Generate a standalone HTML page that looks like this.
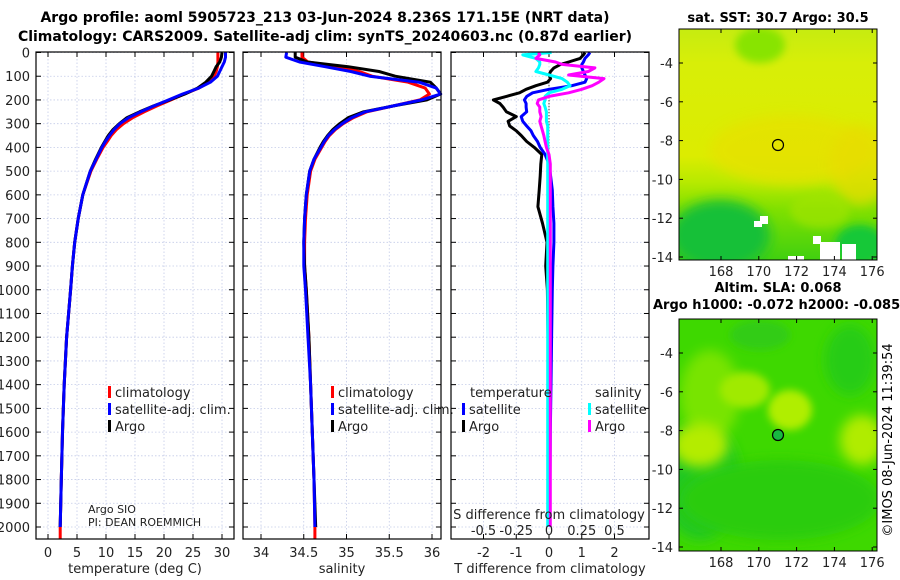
<!DOCTYPE html>
<html><head><meta charset="utf-8"><style>
html,body{margin:0;padding:0;background:#fff;}
svg{display:block;font-family:"DejaVu Sans","Liberation Sans",sans-serif;}
</style></head><body>
<svg id="chart" width="900" height="580" viewBox="0 0 900 580" xmlns="http://www.w3.org/2000/svg">
<defs>
<filter id="blur6" x="-50%" y="-50%" width="200%" height="200%"><feGaussianBlur stdDeviation="6"/></filter>
<filter id="blur4" x="-50%" y="-50%" width="200%" height="200%"><feGaussianBlur stdDeviation="4"/></filter>
<clipPath id="clipMap1"><rect x="679" y="29" width="198" height="231"/></clipPath>
<clipPath id="clipMap2"><rect x="679" y="319" width="198" height="232"/></clipPath>
<linearGradient id="sstGrad" x1="0" y1="0" x2="0" y2="1">
<stop offset="0" stop-color="#c6ec10"/><stop offset="0.15" stop-color="#d8ee08"/><stop offset="0.55" stop-color="#dcec00"/><stop offset="0.66" stop-color="#b8ea00"/><stop offset="0.78" stop-color="#80e000"/><stop offset="1" stop-color="#40d010"/>
</linearGradient>
</defs>
<text x="325" y="22" text-anchor="middle" font-size="14" font-weight="bold">Argo profile: aoml 5905723_213 03-Jun-2024 8.236S 171.15E (NRT data)</text>
<text x="325" y="41" text-anchor="middle" font-size="14" font-weight="bold">Climatology: CARS2009. Satellite-adj clim: synTS_20240603.nc (0.87d earlier)</text>
<g id="panels"></g>
<g id="maps">
<text x="778" y="22" text-anchor="middle" font-size="13" font-weight="bold">sat. SST: 30.7 Argo: 30.5</text>
<g clip-path="url(#clipMap1)">
<rect x="679" y="29" width="198" height="231" fill="url(#sstGrad)"/>
<ellipse cx="790" cy="150" rx="80" ry="35" fill="#e6e200" filter="url(#blur6)" opacity="0.8"/>
<ellipse cx="860" cy="165" rx="30" ry="40" fill="#e8dc00" filter="url(#blur6)" opacity="0.7"/>
<ellipse cx="760" cy="45" rx="25" ry="18" fill="#88e400" filter="url(#blur4)"/>
<ellipse cx="720" cy="235" rx="50" ry="35" fill="#18c038" filter="url(#blur6)"/>
<ellipse cx="860" cy="245" rx="25" ry="20" fill="#18c838" filter="url(#blur4)"/>
<ellipse cx="820" cy="210" rx="30" ry="18" fill="#a0e400" filter="url(#blur4)" opacity="0.7"/>
<rect x="760" y="216" width="8" height="8" fill="#fff"/>
<rect x="754" y="221" width="8" height="6" fill="#fff"/>
<rect x="813" y="236" width="8" height="8" fill="#fff"/>
<rect x="820" y="242" width="20" height="18" fill="#fff"/>
<rect x="842" y="244" width="14" height="16" fill="#fff"/>
<rect x="788" y="256" width="16" height="4" fill="#fff"/>
<circle cx="778" cy="145" r="5.5" fill="none" stroke="#000" stroke-width="1.2"/>
</g>
<rect x="679" y="29" width="198" height="231" fill="none" stroke="#000" stroke-width="1"/>
<text x="778" y="292" text-anchor="middle" font-size="13" font-weight="bold">Altim. SLA: 0.068</text>
<text x="653" y="309" font-size="13" font-weight="bold">Argo h1000: -0.072 h2000: -0.085</text>
<g clip-path="url(#clipMap2)">
<rect x="679" y="319" width="198" height="232" fill="#3ed800"/>
<ellipse cx="700" cy="480" rx="40" ry="60" fill="#22c820" filter="url(#blur6)"/>
<ellipse cx="780" cy="500" rx="100" ry="40" fill="#2ccc10" filter="url(#blur6)"/>
<ellipse cx="850" cy="360" rx="25" ry="35" fill="#28cc18" filter="url(#blur6)"/>
<ellipse cx="760" cy="335" rx="30" ry="15" fill="#30cc18" filter="url(#blur4)"/>
<ellipse cx="710" cy="395" rx="30" ry="45" fill="#78e400" filter="url(#blur6)"/>
<ellipse cx="700" cy="445" rx="28" ry="22" fill="#b4ec00" filter="url(#blur6)"/>
<ellipse cx="745" cy="390" rx="25" ry="18" fill="#a0ea00" filter="url(#blur4)"/>
<ellipse cx="790" cy="410" rx="22" ry="20" fill="#b0ee00" filter="url(#blur4)"/>
<ellipse cx="862" cy="440" rx="22" ry="25" fill="#b0ec00" filter="url(#blur6)"/>
<circle cx="778" cy="435" r="5.5" fill="#18b840" stroke="#000" stroke-width="1.2"/>
</g>
<rect x="679" y="319" width="198" height="232" fill="none" stroke="#000" stroke-width="1"/>
<g id="mapTicks" font-size="13" fill="#222"></g>
<text transform="translate(892,440) rotate(-90)" text-anchor="middle" font-size="13">©IMOS 08-Jun-2024 11:39:54</text>
</g>
</svg>
<script>
// ---- data ----
const depths = [0,20,40,60,80,100,125,150,175,200,225,250,275,300,325,350,375,400,450,500,600,700,800,900,1000,1200,1400,1600,1800,2000,2050];
const climT = [29.3,29.3,29.3,29.2,29.0,28.6,27.8,26.0,23.5,21.2,18.8,16.6,14.6,13.0,11.8,10.9,10.2,9.5,8.4,7.4,6.0,5.2,4.6,4.2,3.9,3.2,2.8,2.5,2.3,2.1,2.1];
const satT = [30.6,30.6,30.4,30.0,29.6,29.2,28.0,26.0,23.2,20.8,18.3,16.0,13.9,12.4,11.4,10.6,9.9,9.3,8.3,7.3,6.0,5.2,4.6,4.2,3.9,3.2,2.8,2.5,2.3,2.1,null];
const argoT = [30.0,29.9,29.6,29.0,28.6,28.2,27.2,25.8,23.6,21.0,18.2,15.8,13.6,12.3,11.2,10.4,9.8,9.2,8.2,7.3,6.0,5.2,4.6,4.2,3.9,3.2,2.8,2.5,2.3,2.1,null];
const climS = [34.48,34.48,34.55,34.9,35.15,35.30,35.72,35.92,35.97,35.86,35.55,35.24,35.08,34.96,34.87,34.80,34.75,34.71,34.63,34.58,34.54,34.52,34.51,34.51,34.53,34.56,34.58,34.60,34.62,34.63,34.63];
const satS = [34.30,34.29,34.45,34.75,35.05,35.27,35.85,36.05,36.10,35.88,35.55,35.22,35.06,34.95,34.86,34.79,34.74,34.70,34.62,34.57,34.53,34.51,34.50,34.50,34.52,34.55,34.58,34.60,34.62,34.63,null];
const argoS = [34.40,34.40,34.54,35.02,35.38,35.57,35.98,36.05,36.10,35.94,35.55,35.20,35.02,34.92,34.84,34.78,34.73,34.69,34.62,34.57,34.53,34.51,34.50,34.51,34.53,34.56,34.58,34.60,34.62,34.64,null];
const diffDepths = [0,10,25,40,50,65,80,95,110,125,140,155,170,185,200,215,230,250,270,290,310,330,350,375,400,430,470,520,580,650,720,800,900,1000,1200,1400,1600,1800,2000];
const argoTdiff = [1.1,1.05,0.95,0.6,0.35,0.15,0.05,0.0,0.05,-0.05,-0.4,-0.7,-0.9,-1.3,-1.7,-1.5,-1.4,-1.3,-1.0,-1.25,-1.2,-1.0,-0.85,-0.68,-0.45,-0.22,-0.25,-0.27,-0.3,-0.34,-0.2,-0.06,-0.1,-0.05,-0.03,-0.02,0,0,0];
const satTdiff = [1.25,1.2,1.1,1.05,1.0,1.0,1.05,1.1,1.15,1.1,0.7,0.0,-0.5,-0.68,-0.75,-0.7,-0.7,-0.68,-0.85,-0.8,-0.68,-0.55,-0.48,-0.35,-0.27,-0.12,0.0,0.05,0.1,0.12,0.15,0.15,0.12,0.1,0.08,0.06,0.04,0.03,0.02];
const argoSdiff = [-0.08,-0.07,-0.1,0.05,0.1,0.35,0.3,0.15,0.42,0.38,0.33,0.25,0.15,0.0,-0.08,-0.09,-0.07,-0.07,-0.06,-0.07,-0.06,-0.05,-0.04,-0.03,-0.02,0.0,0.01,0.01,0.01,0.01,0.01,0.01,0.01,0.01,0.01,0.01,0.01,0.01,0.01];
const satSdiff = [0.02,-0.2,-0.1,-0.07,-0.07,-0.08,-0.1,0.0,0.1,0.14,0.16,0.1,0.0,-0.03,-0.03,-0.04,-0.03,-0.02,-0.02,-0.02,-0.01,-0.01,-0.01,-0.01,-0.01,-0.01,-0.01,-0.01,-0.01,-0.01,-0.01,-0.01,-0.01,-0.01,-0.01,-0.01,-0.01,-0.01,-0.01];
const depthTicks = [0,100,200,300,400,500,600,700,800,900,1000,1100,1200,1300,1400,1500,1600,1700,1800,1900,2000];
const tempTicks = [0,5,10,15,20,25,30];
const salTicks = [34,34.5,35,35.5,36];
const tdiffTicks = [-2,-1,0,1,2];
const sdiffTicks = [-0.5,-0.25,0,0.25,0.5];
const mapLonTicks = [168,170,172,174,176];
const mapLatTicks = [-4,-6,-8,-10,-12,-14];

// ---- scales ----
const NS = 'http://www.w3.org/2000/svg';
const Y0 = 52, Y1 = 539;
const yScale = d => 52.5 + d * 0.23725;
const xTemp = v => 48 + v * 5.8;
const xSal = v => 261 + (v - 34) * 85.5;
const xTd = v => 549 + v * 32.75;
const xSd = v => 549 + v * 131;
const root = document.getElementById('panels');
function el(tag, attrs, parent) {
  const e = document.createElementNS(NS, tag);
  for (const k in attrs) e.setAttribute(k, attrs[k]);
  (parent || root).appendChild(e);
  return e;
}
function txt(x, y, s, size, anchor, parent) {
  const t = el('text', {x: x, y: y, 'font-size': size, 'text-anchor': anchor || 'middle', fill: '#222'}, parent);
  t.textContent = s;
  return t;
}
function panel(name, x0, x1, xt, ticks, label, tickLabels) {
  const g = el('g', {});
  
  
  for (const d of depthTicks) {
    const y = yScale(d);
    el('line', {x1: x0, x2: x1, y1: y, y2: y, stroke: '#c4cbe8', 'stroke-width': 0.8, 'stroke-dasharray': '1.5,2'}, g);
    el('line', {x1: x0, x2: x0 + 5, y1: y, y2: y, stroke: '#000', 'stroke-width': 1}, g);
    el('line', {x1: x1 - 5, x2: x1, y1: y, y2: y, stroke: '#000', 'stroke-width': 1}, g);
  }
  for (const v of ticks) {
    const x = xt(v);
    el('line', {x1: x, x2: x, y1: Y0, y2: Y1, stroke: '#c4cbe8', 'stroke-width': 0.8, 'stroke-dasharray': '1.5,2'}, g);
    el('line', {x1: x, x2: x, y1: Y1 - 5, y2: Y1, stroke: '#000', 'stroke-width': 1}, g);
    el('line', {x1: x, x2: x, y1: Y0, y2: Y0 + 5, stroke: '#000', 'stroke-width': 1}, g);
    if (tickLabels) {
      const t = txt(x, 557, String(v), 13, 'middle', g);
      
      
    }
  }
  if (label) {
    const t = txt((x0 + x1) / 2, 573, label, 13, 'middle', g);
    
    
  }
  return g;
}
function series(g, name, dep, vals, xs, color, width) {
  let d = '';
  for (let i = 0; i < dep.length; i++) {
    if (vals[i] === null || vals[i] === undefined) continue;
    d += (d ? 'L' : 'M') + xs(vals[i]).toFixed(1) + ',' + yScale(dep[i]).toFixed(1);
  }
  const p = el('path', {d: d, fill: 'none', stroke: color, 'stroke-width': width || 3, 'stroke-linejoin': 'round'}, g);
  
  
}
function frame(g, x0, x1) {
  el('rect', {x: x0, y: Y0, width: x1 - x0, height: Y1 - Y0, fill: 'none', stroke: '#000', 'stroke-width': 1.2}, g);
}
function legendEntry(g, name, x, y, color, label) {
  const r = el('rect', {x: x, y: y - 11, width: 3, height: 12, fill: color}, g);
  
  
  const t = txt(x + 7, y, label, 13, 'start', g);
  
  
}

// depth labels
for (const d of depthTicks) {
  const t = txt(30, yScale(d) + 5, String(d), 13, 'end');
  
  
}

// panel 1: temperature
const g1 = panel('temperature-panel', 36, 234, xTemp, tempTicks, 'temperature (deg C)', true);
series(g1, 'climatology-temperature-line', depths, climT, xTemp, '#ff0000');
series(g1, 'argo-temperature-line', depths, argoT, xTemp, '#000000');
series(g1, 'satellite-temperature-line', depths, satT, xTemp, '#0000ff');
frame(g1, 36, 234);
legendEntry(g1, 'legend-climatology', 108, 397, '#ff0000', 'climatology');
legendEntry(g1, 'legend-satellite-adj-clim', 108, 414, '#0000ff', 'satellite-adj. clim.');
legendEntry(g1, 'legend-argo', 108, 431, '#000000', 'Argo');
const c1 = txt(88, 513, 'Argo SIO', 11, 'start', g1);


const c2 = txt(88, 526, 'PI: DEAN ROEMMICH', 11, 'start', g1);



// panel 2: salinity
const g2 = panel('salinity-panel', 243, 441, xSal, salTicks, 'salinity', true);
series(g2, 'climatology-salinity-line', depths, climS, xSal, '#ff0000');
series(g2, 'argo-salinity-line', depths, argoS, xSal, '#000000');
series(g2, 'satellite-salinity-line', depths, satS, xSal, '#0000ff');
frame(g2, 243, 441);
legendEntry(g2, 'legend-climatology-sal', 331, 397, '#ff0000', 'climatology');
legendEntry(g2, 'legend-satellite-adj-clim-sal', 331, 414, '#0000ff', 'satellite-adj. clim.');
legendEntry(g2, 'legend-argo-sal', 331, 431, '#000000', 'Argo');

// panel 3: differences
const g3 = panel('difference-panel', 451, 649, xTd, tdiffTicks, 'T difference from climatology', true);
el('line', {x1: xTd(0), x2: xTd(0), y1: yScale(100), y2: yScale(2000), stroke: '#000', 'stroke-width': 1, 'stroke-dasharray': '1,2'}, g3);
series(g3, 'argo-t-diff-line', diffDepths, argoTdiff, xTd, '#000000');
series(g3, 'satellite-t-diff-line', diffDepths, satTdiff, xTd, '#0000ff');
series(g3, 'satellite-s-diff-line', diffDepths, satSdiff, xSd, '#00ffff');
series(g3, 'argo-s-diff-line', diffDepths, argoSdiff, xSd, '#ff00ff');
frame(g3, 451, 649);
const lt = txt(470, 397, 'temperature', 13, 'start', g3);


legendEntry(g3, 'legend-t-satellite', 462, 414, '#0000ff', 'satellite');
legendEntry(g3, 'legend-t-argo', 462, 431, '#000000', 'Argo');
const ls = txt(595, 397, 'salinity', 13, 'start', g3);


legendEntry(g3, 'legend-s-satellite', 588, 414, '#00ffff', 'satellite');
legendEntry(g3, 'legend-s-argo', 588, 431, '#ff00ff', 'Argo');
const st = txt(549, 519, 'S difference from climatology', 13, 'middle', g3);


for (const v of sdiffTicks) {
  const t = txt(xSd(v), 535, String(v), 13, 'middle', g3);
  
  
}

// map ticks
const mt = document.getElementById('mapTicks');
const lonX = lon => 721 + (lon - 168) * 18.9;
for (const [top, y0] of [[29, 63], [319, 353]]) {
  const bottom = top === 29 ? 260 : 551;
  for (const lat of mapLatTicks) {
    const y = y0 + (-4 - lat) * 19.4;
    el('line', {x1: 679, x2: 683, y1: y, y2: y, stroke: '#000'}, mt);
    el('line', {x1: 873, x2: 877, y1: y, y2: y, stroke: '#000'}, mt);
    const t = txt(673, y + 5, String(lat), 13, 'end', mt);
    
    
  }
  for (const lon of mapLonTicks) {
    const x = lonX(lon);
    el('line', {x1: x, x2: x, y1: bottom - 4, y2: bottom, stroke: '#000'}, mt);
    el('line', {x1: x, x2: x, y1: top, y2: top + 4, stroke: '#000'}, mt);
    const t = txt(x, bottom + 16, String(lon), 13, 'middle', mt);
    
    
  }
}
</script>
</body></html>
